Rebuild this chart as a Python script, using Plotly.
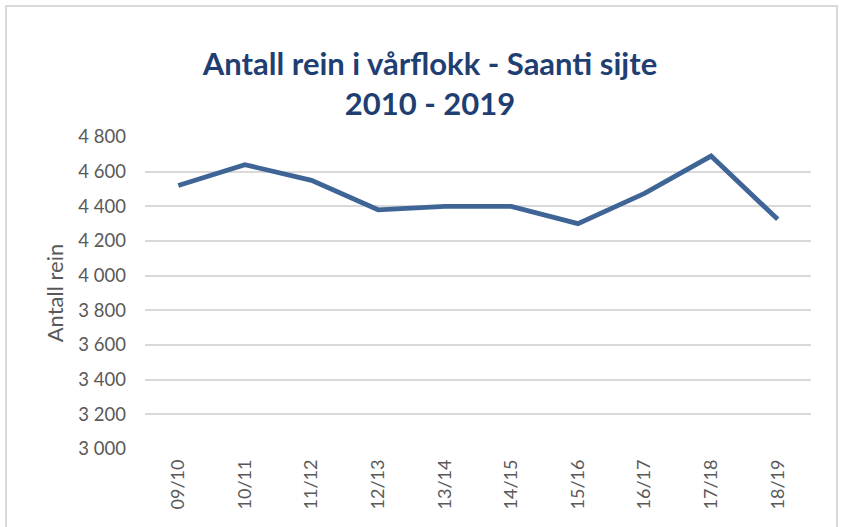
import plotly.graph_objects as go

seasons = ["09/10", "10/11", "11/12", "12/13", "13/14", "14/15", "15/16", "16/17", "17/18", "18/19"]
reindeer = [4520, 4640, 4550, 4380, 4400, 4400, 4300, 4475, 4690, 4325]
y_ticks = [3000, 3200, 3400, 3600, 3800, 4000, 4200, 4400, 4600, 4800]

W, H = 842, 527
L, R, T, B = 145, 31, 137, 78
pw, ph = W - L - R, H - T - B

def px_x(x):
    return (x - L) / pw

def px_y(y):
    return (H - B - y) / ph

fig = go.Figure()
fig.add_trace(go.Scatter(
    x=seasons, y=reindeer, mode="lines",
    line=dict(color="#3f6596", width=4.8),
    hoverinfo="x+y",
))

fig.update_layout(
    width=W, height=H,
    margin=dict(l=L, r=R, t=T, b=B, autoexpand=False),
    paper_bgcolor="white", plot_bgcolor="white",
    separators=", ",
    showlegend=False,
    font=dict(family="Lato, 'Open Sans', sans-serif", color="#595959"),
    title=dict(
        text="<b>Antall rein i vårflokk - Saanti sijte</b><br><b>2010 - 2019</b>",
        x=430 / W, xanchor="center", y=1 - 75 / H, yanchor="middle",
        font=dict(family="Lato, 'Open Sans', sans-serif", size=31, color="#1f3f72"),
    ),
    xaxis=dict(
        type="category", range=[-0.5, 9.5], tickangle=-90, showgrid=False, zeroline=False,
        showline=False, ticks="", tickfont=dict(size=18, color="#595959"),
        ticklabelstandoff=6,
    ),
    yaxis=dict(
        range=[3000, 4800], tickvals=y_ticks, tickformat=",d",
        showgrid=True, gridcolor="#d9d9d9", gridwidth=1.5, zeroline=False,
        showline=False, ticks="", tickfont=dict(size=18.5, color="#595959"),
        ticklabelstandoff=18,
        title=dict(text="Antall rein", font=dict(size=22, color="#595959"), standoff=8),
    ),
    shapes=[dict(
        type="rect", xref="paper", yref="paper",
        x0=px_x(6), x1=px_x(837), y0=px_y(545), y1=px_y(6),
        line=dict(color="#d9d9d9", width=2), fillcolor="rgba(0,0,0,0)", layer="below",
    )],
)

fig.write_html("out.html", config={"displayModeBar": False},
               post_script="document.body.style.margin='0';")
